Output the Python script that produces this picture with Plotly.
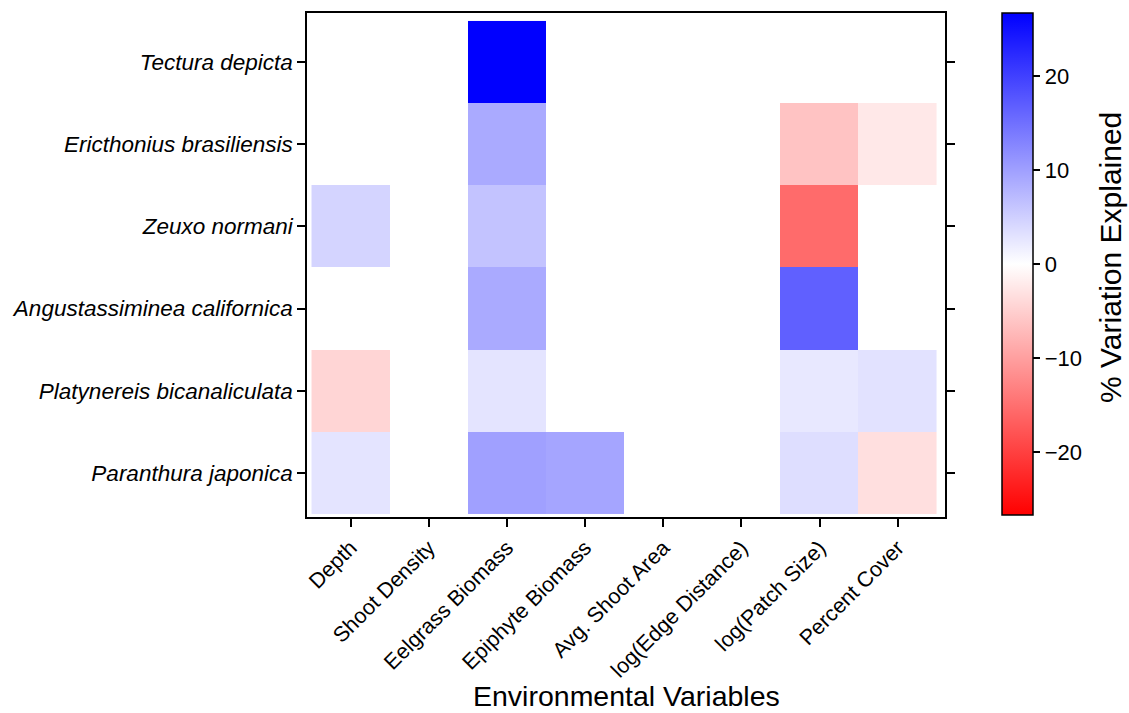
import plotly.graph_objects as go

variables = ["Depth", "Shoot Density", "Eelgrass Biomass", "Epiphyte Biomass",
             "Avg. Shoot Area", "log(Edge Distance)", "log(Patch Size)", "Percent Cover"]
species = ["Paranthura japonica", "Platynereis bicanaliculata", "Angustassiminea californica",
           "Zeuxo normani", "Ericthonius brasiliensis", "Tectura depicta"]  # bottom to top

# % variation explained (None = not significant / blank)
paranthura = [2.8, None, 9.9, 9.4, None, None, 3.5, -3.4]
platynereis = [-4.4, None, 2.8, None, None, None, 2.4, 3.0]
angustassiminea = [None, None, 8.9, None, None, None, 16.7, None]
zeuxo = [4.5, None, 6.3, None, None, None, -15.5, None]
ericthonius = [None, None, 8.9, None, None, None, -6.3, -2.4]
tectura = [None, None, 26.7, None, None, None, None, None]

z = [paranthura, platynereis, angustassiminea, zeuxo, ericthonius, tectura]
zlim = 26.7
cbar_ticks = [-20, -10, 0, 10, 20]

FONT = "Liberation Sans, Arial, sans-serif"

x_idx = list(range(1, len(variables) + 1))
y_idx = list(range(1, len(species) + 1))

fig = go.Figure()
fig.add_trace(go.Heatmap(
    x=x_idx, y=y_idx, z=z,
    zmin=-zlim, zmax=zlim,
    colorscale=[[0, "#FF0000"], [0.5, "#FFFFFF"], [1, "#0000FF"]],
    hoverongaps=False,
    colorbar=dict(
        x=(1002 - 307) / 638, xanchor="left", xpad=0,
        y=1, yanchor="top", ypad=0,
        len=502 / 504, lenmode="fraction",
        thickness=31,
        outlinewidth=1.5, outlinecolor="black",
        ticks="outside", ticklen=7, tickwidth=1.5, tickcolor="black",
        tickvals=cbar_ticks,
        tickfont=dict(family=FONT, size=22, color="black"),
    ),
))

fig.update_layout(
    width=1129, height=713,
    margin=dict(l=307, r=184, t=13, b=196),
    paper_bgcolor="white", plot_bgcolor="white",
    font=dict(family=FONT, color="black"),
    showlegend=False,
    xaxis=dict(
        range=[0.442, 8.605],
        tickvals=x_idx, ticktext=variables, tickangle=-45,
        tickfont=dict(family=FONT, size=21.5, color="black"),
        ticks="outside", ticklen=8, tickwidth=1.5, tickcolor="black",
        showline=True, linewidth=1.5, linecolor="black", mirror=True,
        showgrid=False, zeroline=False,
    ),
    yaxis=dict(
        range=[0.464, 6.597],
        tickvals=y_idx, ticktext=[f"<i>{s}</i>" for s in species],
        tickfont=dict(family=FONT, size=22.5, color="black"),
        ticks="outside", ticklen=8, tickwidth=1.5, tickcolor="black",
        showline=True, linewidth=1.5, linecolor="black", mirror="ticks",
        showgrid=False, zeroline=False,
    ),
    annotations=[
        dict(text="Environmental Variables", xref="paper", yref="paper",
             x=0.5, y=-(696 - 517) / 504, xanchor="center", yanchor="middle",
             showarrow=False, font=dict(family=FONT, size=28.5, color="black")),
        dict(text="% Variation Explained", xref="paper", yref="paper",
             x=(1110 - 307) / 638, y=(517 - 258) / 504, xanchor="center", yanchor="middle",
             textangle=-90, showarrow=False,
             font=dict(family=FONT, size=30, color="black")),
    ],
)

fig.write_html("out.html")
